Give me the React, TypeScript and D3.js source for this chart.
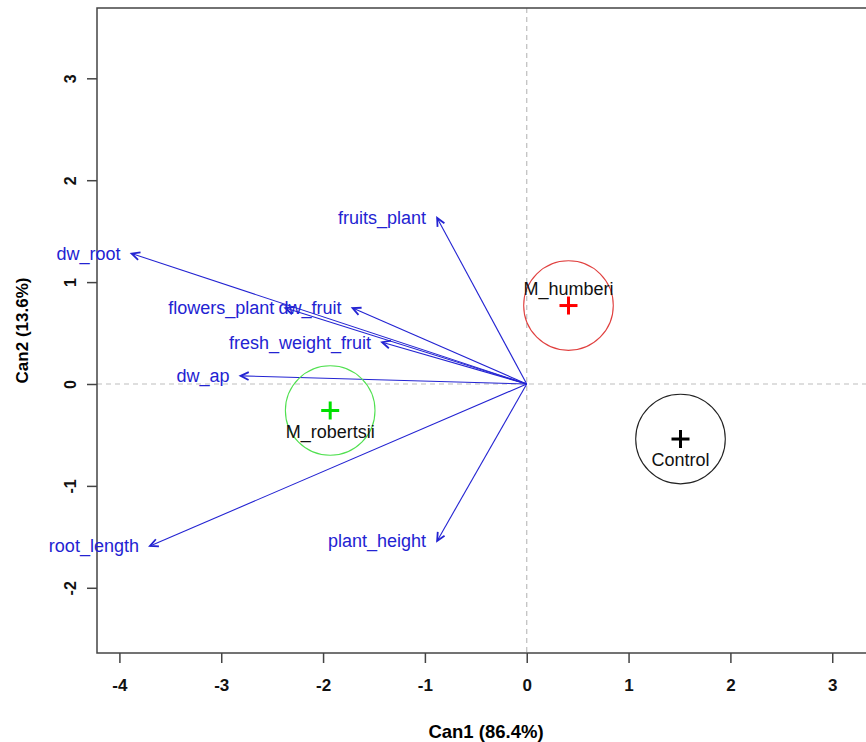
import React, { useEffect, useRef } from 'react'
import * as d3 from 'd3'

// structure coefficients (arrows)
const variables = ['dw_root', 'flowers_plant', 'dw_fruit', 'fresh_weight_fruit', 'dw_ap', 'fruits_plant', 'plant_height', 'root_length']
const varCan1 = [-3.88, -2.37, -1.71, -1.42, -2.81, -0.88, -0.88, -3.70]
const varCan2 = [1.28, 0.745, 0.745, 0.41, 0.08, 1.63, -1.54, -1.59]

// group means
const groups = ['M_humberi', 'M_robertsii', 'Control']
const groupCan1 = [0.41, -1.93, 1.51]
const groupCan2 = [0.77, -0.26, -0.54]
const groupColors = ['#ff0000', '#00e000', '#000000']
const circleColors = ['#e0403f', '#50e050', '#222222']
const circleRadius = 0.44

const xTicks = [-4, -3, -2, -1, 0, 1, 2, 3]
const yTicks = [-2, -1, 0, 1, 2, 3]
const xTitle = 'Can1 (86.4%)'
const yTitle = 'Can2 (13.6%)'

const W = 866
const H = 742

const App = () => {
  const svgRef = useRef<SVGSVGElement>(null)

  useEffect(() => {
    if (!svgRef.current) return
    const svg = d3.select(svgRef.current)
    svg.selectAll('*').remove()

    const left = 97, right = 875, top = 8, bottom = 653
    const x = d3.scaleLinear().domain([-4.22, 3.42]).range([left, right])
    const y = d3.scaleLinear().domain([-2.64, 3.69]).range([bottom, top])
    const font = 'Liberation Sans, Arial, sans-serif'
    const blue = '#2323d2'
    const fmt = (d: d3.NumberValue) => String(d)

    // reference lines at 0
    svg.append('line')
      .attr('x1', x(0)).attr('x2', x(0)).attr('y1', top).attr('y2', bottom)
      .attr('stroke', '#bdbdbd').attr('stroke-dasharray', '5,4').attr('stroke-width', 1.2)
    svg.append('line')
      .attr('x1', left).attr('x2', right).attr('y1', y(0)).attr('y2', y(0))
      .attr('stroke', '#bdbdbd').attr('stroke-dasharray', '5,4').attr('stroke-width', 1.2)

    // box
    svg.append('rect')
      .attr('x', left).attr('y', top).attr('width', right - left).attr('height', bottom - top)
      .attr('fill', 'none').attr('stroke', '#444').attr('stroke-width', 1.5)

    // x axis
    const xAxis = svg.append('g').attr('transform', `translate(0,${bottom})`)
      .call(d3.axisBottom(x).tickValues(xTicks).tickSize(10).tickPadding(16).tickFormat(fmt))
    xAxis.select('.domain').remove()
    xAxis.selectAll('line').attr('stroke', '#444').attr('stroke-width', 1.5)
    xAxis.selectAll('text').attr('font-family', font).attr('font-size', 17).attr('font-weight', 'bold').attr('fill', '#111')

    // y axis, rotated labels
    const yAxis = svg.append('g').attr('transform', `translate(${left},0)`)
      .call(d3.axisLeft(y).tickValues(yTicks).tickSize(10).tickFormat(fmt))
    yAxis.select('.domain').remove()
    yAxis.selectAll('line').attr('stroke', '#444').attr('stroke-width', 1.5)
    yAxis.selectAll('text').remove()
    yAxis.selectAll('.tick').append('text')
      .attr('transform', 'translate(-27,0) rotate(-90)')
      .attr('text-anchor', 'middle').attr('dy', '0.35em')
      .attr('font-family', font).attr('font-size', 16).attr('font-weight', 'bold').attr('fill', '#111')
      .text(d => fmt(d as number))

    // axis titles
    svg.append('text')
      .attr('x', (left + right) / 2).attr('y', 732).attr('dy', '0.35em')
      .attr('text-anchor', 'middle').attr('font-family', font).attr('font-size', 18.5).attr('font-weight', 'bold')
      .text(xTitle)
    svg.append('text')
      .attr('transform', `translate(22,${(top + bottom) / 2}) rotate(-90)`)
      .attr('dy', '0.35em').attr('text-anchor', 'middle')
      .attr('font-family', font).attr('font-size', 17).attr('font-weight', 'bold')
      .text(yTitle)

    // arrows
    const arrows = variables.map((name, i) => ({ name, c1: varCan1[i], c2: varCan2[i] }))
    const ag = svg.append('g')
    ag.selectAll('line.arrow').data(arrows).enter().append('line')
      .attr('class', 'arrow')
      .attr('x1', x(0)).attr('y1', y(0))
      .attr('x2', d => x(d.c1)).attr('y2', d => y(d.c2))
      .attr('stroke', blue).attr('stroke-width', 1.1)
    ag.selectAll('path.head').data(arrows).enter().append('path')
      .attr('class', 'head')
      .attr('d', d => {
        const x1 = x(d.c1), y1 = y(d.c2)
        const ang = Math.atan2(y1 - y(0), x1 - x(0))
        const len = 9, spread = Math.PI / 7
        const a = [x1 - len * Math.cos(ang - spread), y1 - len * Math.sin(ang - spread)]
        const b = [x1 - len * Math.cos(ang + spread), y1 - len * Math.sin(ang + spread)]
        return `M${a[0]},${a[1]}L${x1},${y1}L${b[0]},${b[1]}`
      })
      .attr('fill', 'none').attr('stroke', blue).attr('stroke-width', 1.8)
    ag.selectAll('text').data(arrows).enter().append('text')
      .attr('x', d => x(d.c1) - 11).attr('y', d => y(d.c2)).attr('dy', '0.35em')
      .attr('text-anchor', 'end').attr('font-family', font).attr('font-size', 18)
      .attr('fill', blue)
      .text(d => d.name)

    // group means and circles
    const means = groups.map((name, i) => ({ name, c1: groupCan1[i], c2: groupCan2[i], col: groupColors[i], ccol: circleColors[i] }))
    const rPx = x(circleRadius) - x(0)
    const gg = svg.append('g')
    gg.selectAll('circle').data(means).enter().append('circle')
      .attr('cx', d => x(d.c1)).attr('cy', d => y(d.c2)).attr('r', rPx)
      .attr('fill', 'none').attr('stroke', d => d.ccol).attr('stroke-width', 1.1)
    const plus = gg.selectAll('g.plus').data(means).enter().append('g')
      .attr('class', 'plus')
      .attr('transform', d => `translate(${x(d.c1)},${y(d.c2)})`)
    plus.append('line').attr('x1', -9).attr('x2', 9).attr('y1', 0).attr('y2', 0)
      .attr('stroke', d => d.col).attr('stroke-width', 3)
    plus.append('line').attr('x1', 0).attr('x2', 0).attr('y1', -9).attr('y2', 9)
      .attr('stroke', d => d.col).attr('stroke-width', 3)
    gg.selectAll('text').data(means).enter().append('text')
      .attr('x', d => x(d.c1))
      .attr('y', d => y(d.c2) + (d.c2 > 0 ? -17 : 21))
      .attr('dy', '0.35em').attr('text-anchor', 'middle')
      .attr('font-family', font).attr('font-size', 18).attr('fill', '#111')
      .text(d => d.name)
  }, [])

  return (
    <div>
      <style>{'body{margin:0}'}</style>
      <svg ref={svgRef} width={W} height={H} style={{ display: 'block', background: '#fff' }} />
    </div>
  )
}

export default App
